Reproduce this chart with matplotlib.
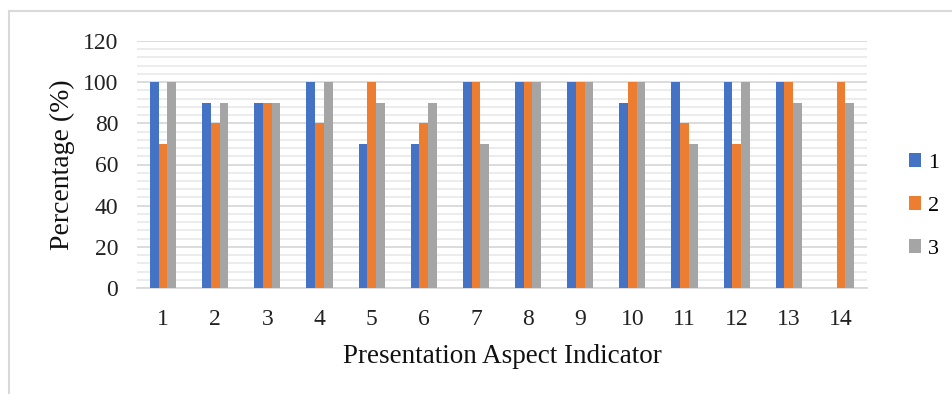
import matplotlib
matplotlib.use("Agg")
import matplotlib.pyplot as plt
import numpy as np
from matplotlib.patches import Rectangle

categories = [str(i) for i in range(1, 15)]
series_names = ["1", "2", "3"]
s1 = [100, 90, 90, 100, 70, 70, 100, 100, 100, 90, 100, 100, 100, 0]
s2 = [70, 80, 90, 80, 100, 80, 100, 100, 100, 100, 80, 70, 100, 100]
s3 = [100, 90, 90, 100, 90, 90, 70, 100, 100, 100, 70, 100, 90, 90]
colors = ["#4472C4", "#ED7D31", "#A5A5A5"]

plt.rcParams['font.family'] = ['Liberation Serif', 'DejaVu Serif']

fig = plt.figure(figsize=(9.52, 3.94), dpi=100)
W, H = 952, 394
ax = fig.add_axes([137 / W, 1 - 288 / H, (867 - 137) / W, (288 - 41) / H])

x = np.arange(len(categories))
bw = 0.167
for i, (vals, c, n) in enumerate(zip([s1, s2, s3], colors, series_names)):
    ax.bar(x + (i - 1) * bw, vals, width=bw, color=c, label=n, zorder=3)

ax.set_xlim(-0.5, len(categories) - 0.5)
ax.set_ylim(0, 120)
ax.set_yticks(range(0, 121, 20))
ax.set_yticks(range(0, 121, 4), minor=True)
ax.set_xticks(x)
ax.set_xticklabels(categories)
ax.grid(axis='y', which='major', color='#D9D9D9', linewidth=1.3, zorder=0)
ax.grid(axis='y', which='minor', color='#EBEBEB', linewidth=1.3, zorder=0)
ax.tick_params(axis='both', which='both', length=0, labelsize=17, colors='#222222')
ax.tick_params(axis='x', pad=15)
ax.tick_params(axis='y', pad=13.5)
for s in ['top', 'right', 'left']:
    ax.spines[s].set_visible(False)
ax.spines['bottom'].set_color('#D9D9D9')
ax.spines['bottom'].set_linewidth(1.3)

ax.set_ylabel("Percentage (%)", fontsize=20, color='#111111', labelpad=5.5)
ax.set_xlabel("Presentation Aspect Indicator", fontsize=19.5, color='#111111', labelpad=10)

leg = fig.legend(loc='center left', bbox_to_anchor=(909 / W, 1 - 206 / H), frameon=False,
                 fontsize=16, handlelength=0.55, handleheight=0.55, handletextpad=0.3,
                 labelspacing=1.05, borderpad=0, borderaxespad=0)

# outer chart border
fig.patches.append(Rectangle((9 / W, -0.1), 1.2, 1 - 11 / H + 0.1, transform=fig.transFigure,
                             fill=False, edgecolor='#D9D9D9', linewidth=1.5))

fig.savefig("out.png", dpi=100)
